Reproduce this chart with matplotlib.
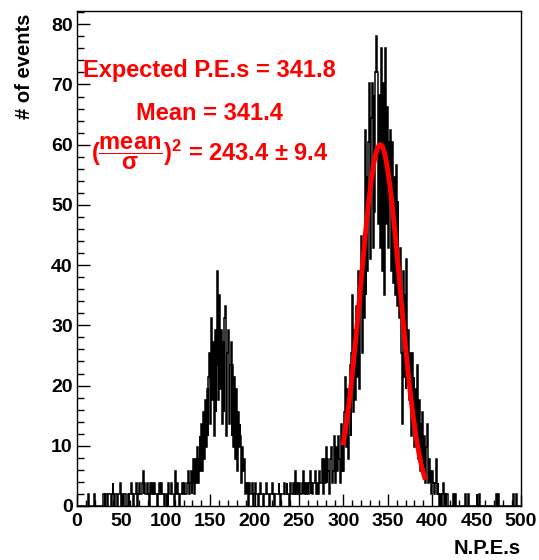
import matplotlib
matplotlib.use('Agg')
import matplotlib.pyplot as plt
from matplotlib.ticker import MultipleLocator
import numpy as np

plt.rcParams['font.family'] = ['Liberation Sans', 'DejaVu Sans']
plt.rcParams['font.weight'] = 'bold'
plt.rcParams['mathtext.fontset'] = 'custom'
plt.rcParams['mathtext.rm'] = 'Liberation Sans:bold'
plt.rcParams['mathtext.it'] = 'Liberation Sans:bold'
plt.rcParams['mathtext.bf'] = 'Liberation Sans:bold'

# entries per 1 p.e. bin (0..499), each entry has the same weight
event_weight = 1.95
counts = [
    0, 0, 0, 0, 0, 0, 0, 0, 0, 0, 0, 0, 1, 0, 0, 0, 0, 0, 0, 1, 0, 0, 0, 0, 0,
    0, 0, 0, 0, 1, 1, 0, 1, 1, 0, 1, 1, 1, 0, 1, 2, 1, 0, 1, 1, 0, 1, 1, 2, 1,
    0, 1, 0, 1, 1, 0, 0, 1, 0, 1, 1, 2, 1, 0, 1, 1, 1, 2, 0, 1, 2, 1, 1, 2, 3,
    1, 2, 1, 1, 2, 1, 0, 2, 1, 1, 2, 1, 2, 1, 1, 0, 1, 2, 1, 1, 2, 1, 1, 0, 1,
    1, 1, 0, 2, 1, 1, 2, 1, 1, 0, 3, 1, 1, 2, 1, 0, 1, 1, 2, 1, 1, 2, 1, 1, 2,
    3, 1, 2, 3, 1, 2, 4, 1, 4, 2, 5, 2, 4, 6, 3, 7, 3, 8, 4, 9, 5, 10, 6, 11, 13,
    7, 16, 9, 14, 6, 15, 8, 12, 20, 9, 18, 10, 15, 7, 14, 8, 16, 17, 6, 13, 15, 7, 12, 14, 6,
    12, 5, 11, 4, 10, 3, 8, 5, 7, 6, 2, 5, 3, 4, 1, 2, 1, 2, 0, 2, 1, 1, 2, 0, 1,
    1, 2, 1, 1, 0, 1, 2, 1, 1, 1, 0, 1, 1, 2, 1, 1, 0, 1, 1, 1, 2, 1, 0, 1, 1,
    1, 1, 2, 1, 0, 1, 1, 1, 2, 1, 1, 2, 1, 1, 0, 2, 1, 1, 2, 1, 1, 3, 1, 2, 1,
    2, 1, 1, 2, 1, 3, 1, 2, 1, 2, 1, 2, 3, 1, 2, 1, 2, 2, 3, 1, 2, 1, 2, 3, 2,
    2, 4, 1, 4, 2, 5, 2, 4, 3, 1, 4, 5, 2, 3, 6, 3, 2, 5, 3, 6, 4, 2, 7, 3, 6,
    3, 8, 11, 5, 10, 4, 9, 12, 6, 13, 18, 8, 15, 9, 17, 11, 14, 20, 10, 19, 23, 13, 22, 16, 32,
    18, 28, 20, 31, 36, 21, 33, 36, 22, 35, 25, 37, 40, 37, 24, 35, 22, 39, 38, 20, 36, 18, 39, 24, 34,
    22, 31, 26, 32, 20, 31, 19, 28, 18, 29, 17, 26, 21, 16, 22, 13, 7, 20, 11, 18, 10, 21, 12, 15, 9,
    13, 6, 13, 7, 11, 5, 10, 6, 12, 4, 9, 3, 7, 4, 8, 3, 6, 2, 5, 7, 2, 4, 2, 3, 1,
    3, 2, 1, 2, 4, 1, 2, 1, 0, 1, 0, 1, 2, 0, 1, 0, 1, 1, 0, 0, 0, 0, 0, 1, 0,
    0, 1, 0, 0, 0, 0, 0, 0, 0, 0, 0, 0, 1, 0, 0, 1, 0, 0, 0, 0, 0, 0, 0, 0, 0,
    1, 0, 0, 1, 0, 0, 0, 0, 0, 0, 0, 0, 0, 0, 0, 0, 0, 0, 0, 0, 0, 0, 1, 0, 1,
    0, 0, 0, 0, 0, 0, 0, 0, 0, 0, 0, 0, 0, 0, 0, 0, 1, 0, 0, 1, 0, 0, 0, 0, 0,
]
bin_edges = np.arange(0, 501, 1)

# gaussian fit of the second peak
fit_amp = 60.0
fit_mean = 341.5
fit_sigma = 22.2
fit_lo, fit_hi = 300.0, 391.5

labels = ['Expected P.E.s = 341.8', 'Mean = 341.4',
          r'$(\dfrac{\mathrm{mean}}{\sigma})^{2}$ = 243.4 ± 9.4']

fig = plt.figure(figsize=(5.39, 5.60), dpi=100)
ax = fig.add_axes([77 / 539, 1 - 506 / 560, 444 / 539, 495 / 560])

values = np.array(counts) * event_weight
ax.stairs(values, bin_edges, color='black', lw=1.1)

xf = np.linspace(fit_lo, fit_hi, 200)
yf = fit_amp * np.exp(-0.5 * ((xf - fit_mean) / fit_sigma) ** 2)
ax.plot(xf, yf, color='red', lw=3.5)

ax.set_xlim(0, 500)
ax.set_ylim(0, 82.2)
ax.set_xticks(np.arange(0, 501, 50))
ax.set_yticks(np.arange(0, 81, 10))
ax.xaxis.set_minor_locator(MultipleLocator(10))
ax.yaxis.set_minor_locator(MultipleLocator(2))
ax.tick_params(which='both', direction='in', top=False, right=False, width=1, labelsize=14)
ax.tick_params(axis='y', which='major', length=9.4, pad=3)
ax.tick_params(axis='y', which='minor', length=4.7)
ax.tick_params(axis='x', which='major', length=8.6, pad=5)
ax.tick_params(axis='x', which='minor', length=4.3)
for s in ax.spines.values():
    s.set_linewidth(1.0)

fig.text(25 / 539, 1 - 14 / 560, '# of events', rotation=90, ha='center', va='top',
         fontsize=14.5, fontweight='bold')
fig.text(521 / 539, 1 - 554 / 560, 'N.P.E.s', ha='right', va='baseline',
         fontsize=14.5, fontweight='bold')

for lab, yb in zip(labels, [71.2, 64.1, 57.3]):
    ax.text(149, yb, lab, color='red', ha='center', va='baseline',
            fontsize=17, fontweight='bold')

fig.savefig('out.png', dpi=100)
